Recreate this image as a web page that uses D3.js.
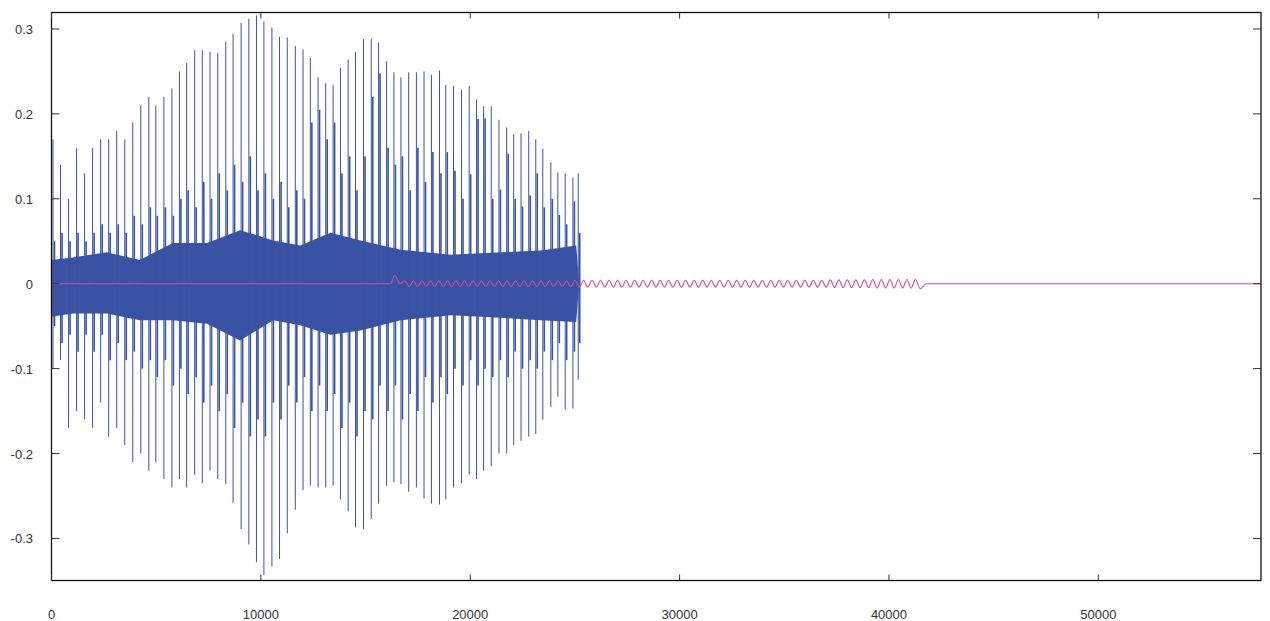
<!DOCTYPE html>
<html>
<head>
<meta charset="utf-8">
<script src="https://d3js.org/d3.v7.min.js"></script>
<style>
 body { margin: 0; background: #fff; }
 svg { display: block; font-family: "Liberation Sans", Arial, sans-serif; }
</style>
</head>
<body>
<svg width="1270" height="621"></svg>
<script>
// axis ranges and ticks
const xMax = 57770;
const yMin = -0.3495, yMax = 0.3194;
const xTicks = [0, 10000, 20000, 30000, 40000, 50000];
const yTicks = [-0.3, -0.2, -0.1, 0, 0.1, 0.2, 0.3];

// voiced pulses of the blue waveform: sample, positive peak, negative peak
const pulseX = [72, 431, 815, 1198, 1581, 1965, 2348, 2731, 3115, 3498, 3881, 4265, 4648, 4983, 5367, 5750, 6110,
  6455, 6838, 7202, 7571, 7940, 8324, 8674, 9057, 9426, 9790, 10145, 10528, 10892, 11261, 11645, 12014, 12363,
  12732, 13097, 13451, 13801, 14170, 14520, 14903, 15272, 15622, 16005, 16355, 16690, 17060, 17429, 17793, 18147,
  18531, 18833, 19201, 19584, 19949, 20303, 20639, 21004, 21372, 21741, 22077, 22426, 22795, 23130, 23466, 23850,
  24185, 24535, 24904, 25158];
const pulseTop = [0.17, 0.14, 0.10, 0.16, 0.13, 0.16, 0.17, 0.17, 0.18, 0.17, 0.19, 0.21, 0.22, 0.21, 0.22, 0.23, 0.25,
  0.260, 0.275, 0.275, 0.273, 0.272, 0.285, 0.294, 0.307, 0.312, 0.316, 0.309, 0.302, 0.291, 0.290, 0.280, 0.276, 0.266,
  0.243, 0.236, 0.234, 0.254, 0.264, 0.273, 0.288, 0.288, 0.284, 0.262, 0.249, 0.243, 0.249, 0.249, 0.250, 0.246,
  0.251, 0.234, 0.233, 0.228, 0.233, 0.217, 0.209, 0.209, 0.193, 0.184, 0.176, 0.177, 0.180, 0.170, 0.159, 0.143,
  0.131, 0.130, 0.125, 0.130];
const pulseBottom = [-0.10, -0.09, -0.17, -0.15, -0.16, -0.17, -0.14, -0.18, -0.17, -0.19, -0.21, -0.20, -0.22, -0.21, -0.23, -0.24, -0.23,
  -0.240, -0.225, -0.235, -0.220, -0.230, -0.236, -0.258, -0.289, -0.307, -0.328, -0.343, -0.333, -0.324, -0.294, -0.266, -0.243, -0.238,
  -0.240, -0.240, -0.238, -0.254, -0.268, -0.287, -0.289, -0.277, -0.259, -0.238, -0.234, -0.236, -0.245, -0.240, -0.253, -0.259,
  -0.260, -0.254, -0.240, -0.235, -0.225, -0.230, -0.220, -0.215, -0.200, -0.200, -0.190, -0.185, -0.180, -0.177, -0.160, -0.145,
  -0.133, -0.148, -0.147, -0.113];
// shorter, darker secondary swing right after each pulse
const echoTop = [0.05, 0.06, 0.05, 0.06, 0.05, 0.06, 0.07, 0.06, 0.07, 0.06, 0.08, 0.07, 0.09, 0.08, 0.09, 0.08, 0.10,
  0.11, 0.09, 0.12, 0.10, 0.13, 0.11, 0.14, 0.12, 0.15, 0.11, 0.13, 0.10, 0.12, 0.09, 0.11, 0.10, 0.19,
  0.205, 0.17, 0.19, 0.13, 0.15, 0.11, 0.15, 0.22, 0.248, 0.16, 0.14, 0.15, 0.11, 0.16, 0.12, 0.155,
  0.13, 0.155, 0.133, 0.10, 0.129, 0.194, 0.195, 0.10, 0.111, 0.153, 0.10, 0.091, 0.104, 0.13, 0.09, 0.10,
  0.081, 0.07, 0.097, 0.06];
const echoBottom = [-0.05, -0.07, -0.06, -0.08, -0.06, -0.08, -0.06, -0.09, -0.07, -0.09, -0.08, -0.10, -0.09, -0.11, -0.09, -0.12, -0.10,
  -0.13, -0.11, -0.14, -0.12, -0.15, -0.13, -0.17, -0.14, -0.18, -0.16, -0.18, -0.14, -0.16, -0.12, -0.14, -0.11, -0.15,
  -0.12, -0.15, -0.13, -0.17, -0.14, -0.18, -0.15, -0.16, -0.12, -0.15, -0.12, -0.16, -0.13, -0.15, -0.11, -0.14,
  -0.11, -0.13, -0.10, -0.12, -0.09, -0.12, -0.10, -0.11, -0.09, -0.11, -0.08, -0.10, -0.09, -0.10, -0.08, -0.09,
  -0.07, -0.09, -0.08, -0.07];

// dense part of the blue waveform between the pulses
const bodyX = [0, 1006, 2636, 4217, 5798, 7428, 9009, 10590, 11884, 13322, 14760, 16676, 19072, 21468, 23385, 25062, 25206];
const bodyTop = [0.028, 0.031, 0.037, 0.028, 0.048, 0.048, 0.063, 0.051, 0.045, 0.060, 0.051, 0.040, 0.034, 0.037, 0.039, 0.045, 0];
const bodyBottom = [-0.039, -0.035, -0.035, -0.043, -0.043, -0.047, -0.067, -0.043, -0.049, -0.060, -0.055, -0.043, -0.037, -0.040, -0.043, -0.045, 0];

// pink trace: flat, a small bump, then a low hum
const bumpX = [0, 16200, 16390, 16640];
const bumpY = [0, 0, 0.010, 0];
const humPeakX = [16880, 17286, 17693, 18099, 18506, 18912, 19318, 19725, 20131, 20538, 20944, 21350, 21757, 22163,
  22570, 22976, 23382, 23789, 24195, 24602, 25008, 25414, 25821, 26227, 26634, 27040, 27446, 27853, 28259, 28666,
  29072, 29478, 29885, 30291, 30698, 31104, 31510, 31917, 32323, 32730, 33136, 33542, 33949, 34355, 34762, 35168,
  35574, 35981, 36387, 36794, 37200, 37606, 38013, 38419, 38826, 39232, 39638, 40045, 40451, 40858, 41264];
const humTroughX = [17083, 17489, 17896, 18302, 18709, 19115, 19521, 19928, 20334, 20741, 21147, 21553, 21960, 22366,
  22773, 23179, 23585, 23992, 24398, 24805, 25211, 25617, 26024, 26430, 26837, 27243, 27649, 28056, 28462, 28869,
  29275, 29681, 30088, 30494, 30901, 31307, 31713, 32120, 32526, 32933, 33339, 33745, 34152, 34558, 34965, 35371,
  35777, 36184, 36590, 36997, 37403, 37809, 38216, 38622, 39029, 39435, 39841, 40248, 40654, 41061, 41500];
const humAmp = [0.0035, 0.0035, 0.0035, 0.0035, 0.0035, 0.0035, 0.0035, 0.0035, 0.0035, 0.0035, 0.0035, 0.0035, 0.0035, 0.0035,
  0.0035, 0.0035, 0.0035, 0.0035, 0.0035, 0.0035, 0.004, 0.004, 0.004, 0.004, 0.004, 0.004, 0.004, 0.004, 0.004, 0.004,
  0.004, 0.004, 0.004, 0.004, 0.004, 0.004, 0.004, 0.004, 0.004, 0.004, 0.004, 0.004, 0.004, 0.004, 0.004, 0.004,
  0.004, 0.004, 0.004, 0.004, 0.0045, 0.0045, 0.0045, 0.0045, 0.0045, 0.005, 0.005, 0.005, 0.005, 0.005, 0.005];
const humEndX = [41790, 57770];

const svg = d3.select("svg");
const margin = {top: 12.5, right: 9, bottom: 40.5, left: 51.5};
const width = 1270, height = 621;

const x = d3.scaleLinear().domain([0, xMax]).range([margin.left, width - margin.right]);
const y = d3.scaleLinear().domain([yMin, yMax]).range([height - margin.bottom, margin.top]);

const blue = "#3a52a3";
const pink = "#c94fa5";

// blue body
const bodyPts = bodyX.map((d, i) => ({x: d, t: bodyTop[i], b: bodyBottom[i]}));
svg.append("path")
   .datum(bodyPts)
   .attr("fill", blue)
   .attr("d", d3.area().x(d => x(d.x)).y0(d => y(d.b)).y1(d => y(d.t)));

// secondary swings
svg.append("g")
   .selectAll("line")
   .data(pulseX)
   .join("line")
   .attr("x1", d => x(d) + 1.5)
   .attr("x2", d => x(d) + 1.5)
   .attr("y1", (d, i) => y(echoBottom[i]))
   .attr("y2", (d, i) => y(echoTop[i]))
   .attr("stroke", blue)
   .attr("stroke-width", 1.6);

// pulses
svg.append("g")
   .selectAll("line")
   .data(pulseX)
   .join("line")
   .attr("x1", d => x(d))
   .attr("x2", d => x(d))
   .attr("y1", (d, i) => y(pulseBottom[i]))
   .attr("y2", (d, i) => y(pulseTop[i]))
   .attr("stroke", blue)
   .attr("stroke-width", 1);

// pink trace
const pinkPts = bumpX.map((d, i) => [d, bumpY[i]]);
humPeakX.forEach((p, i) => {
    pinkPts.push([p, humAmp[i]]);
    pinkPts.push([humTroughX[i], i === humPeakX.length - 1 ? -0.006 : -humAmp[i]]);
});
humEndX.forEach(d => pinkPts.push([d, 0]));

svg.append("path")
   .datum(pinkPts)
   .attr("fill", "none")
   .attr("stroke", pink)
   .attr("stroke-width", 1.1)
   .attr("d", d3.line().curve(d3.curveMonotoneX).x(d => x(d[0])).y(d => y(d[1])));

// frame
const x0 = x(0), x1 = x(xMax), y0 = y(yMin), y1 = y(yMax);
svg.append("rect")
   .attr("x", x0).attr("y", y1)
   .attr("width", x1 - x0).attr("height", y0 - y1)
   .attr("fill", "none")
   .attr("stroke", "#111")
   .attr("stroke-width", 1.3);

// ticks
const tickG = svg.append("g").attr("stroke", "#333").attr("stroke-width", 1);
yTicks.forEach(t => {
    tickG.append("line").attr("x1", x0).attr("x2", x0 + 8).attr("y1", y(t)).attr("y2", y(t));
    tickG.append("line").attr("x1", x1).attr("x2", x1 - 8).attr("y1", y(t)).attr("y2", y(t));
});
xTicks.forEach(t => {
    tickG.append("line").attr("x1", x(t)).attr("x2", x(t)).attr("y1", y0).attr("y2", y0 - 6);
    tickG.append("line").attr("x1", x(t)).attr("x2", x(t)).attr("y1", y1).attr("y2", y1 + 6);
});

// tick labels
svg.append("g")
   .selectAll("text")
   .data(yTicks)
   .join("text")
   .attr("x", 33)
   .attr("y", d => y(d) + 5)
   .attr("text-anchor", "end")
   .attr("font-size", 13)
   .attr("fill", "#333")
   .text(d => String(d));

svg.append("g")
   .selectAll("text")
   .data(xTicks)
   .join("text")
   .attr("x", d => x(d))
   .attr("y", 619)
   .attr("text-anchor", "middle")
   .attr("font-size", 13)
   .attr("fill", "#333")
   .text(d => d);
</script>
</body>
</html>
